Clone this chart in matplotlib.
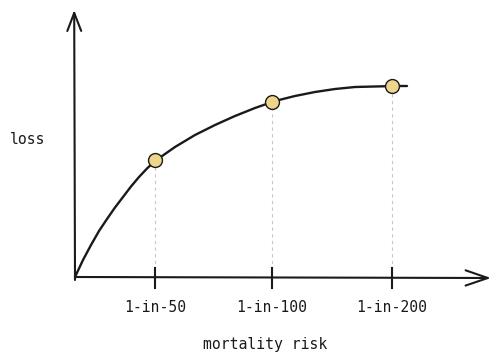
import matplotlib
matplotlib.use("Agg")
import matplotlib.pyplot as plt

# --- data (x unit = tick spacing scale, y = loss) ---
risk_labels = ["1-in-50", "1-in-100", "1-in-200"]
risk_x = [1.0, 2.46, 3.96]
loss_at_risk = [1.17, 1.75, 1.91]

curve_x = [0.0, 0.1, 0.2, 0.3, 0.4, 0.5, 0.6, 0.7, 0.8, 0.9, 1.0, 1.25, 1.5,
           1.75, 2.0, 2.25, 2.5, 2.75, 3.0, 3.25, 3.5, 3.75, 4.0, 4.15]
curve_y = [0.0, 0.17, 0.32, 0.46, 0.58, 0.695, 0.80, 0.905, 1.00, 1.085,
           1.16, 1.30, 1.42, 1.52, 1.61, 1.69, 1.76, 1.81, 1.85, 1.88,
           1.90, 1.905, 1.91, 1.91]

x_label = "mortality risk"
y_label = "loss"

ink = "#1a1a1a"
fill = "#efd58c"

fig = plt.figure(figsize=(5.0, 3.63), dpi=100)
ax = fig.add_axes([0, 0, 1, 1])
ax.set_xlim(-75 / 80, 425 / 80)
ax.set_ylim(-0.86, 2.77)
ax.axis("off")

font = dict(family="DejaVu Sans Mono", fontsize=10.6, color=ink)

# axes with open arrowheads
ax.annotate("", xy=(5.2, -0.01), xytext=(0, 0),
            arrowprops=dict(arrowstyle="->,head_length=1.6,head_width=0.55",
                            color=ink, lw=1.5, shrinkA=0, shrinkB=0))
ax.annotate("", xy=(-0.01, 2.67), xytext=(0, -0.03),
            arrowprops=dict(arrowstyle="->,head_length=1.3,head_width=0.5",
                            color=ink, lw=1.5, shrinkA=0, shrinkB=0))

# dashed guides from points to axis
for x, y in zip(risk_x, loss_at_risk):
    ax.plot([x, x], [0, y], color="#c8c8c8", lw=0.8, ls=(0, (3, 3)), zorder=1)

# tick marks
for x in risk_x:
    ax.plot([x, x], [-0.11, 0.09], color=ink, lw=1.5, zorder=2)

# curve
ax.plot(curve_x, curve_y, color=ink, lw=1.7, solid_capstyle="round",
        solid_joinstyle="round", zorder=3)

# points
ax.plot(risk_x, loss_at_risk, ls="none", marker="o", ms=10,
        mfc=fill, mec=ink, mew=1.0, zorder=4)

# tick labels
for x, lab in zip(risk_x, risk_labels):
    ax.text(x, -0.30, lab, ha="center", va="center", **font)

ax.text(2.38, -0.68, x_label, ha="center", va="center", **font)
ax.text(-0.82, 1.38, y_label, ha="left", va="center", **font)

fig.savefig("out.png", dpi=100, facecolor="white")
